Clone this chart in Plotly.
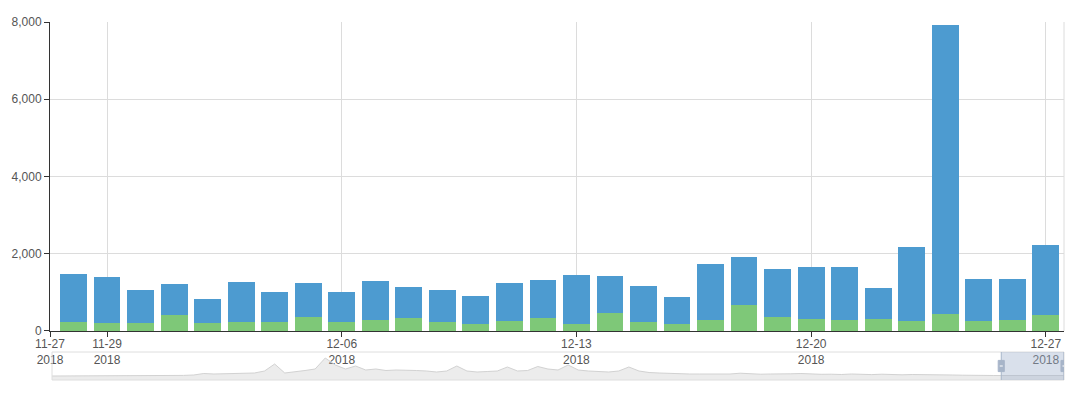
import plotly.graph_objects as go

dates = ["2018-11-28", "2018-11-29", "2018-11-30", "2018-12-01", "2018-12-02", "2018-12-03",
         "2018-12-04", "2018-12-05", "2018-12-06", "2018-12-07", "2018-12-08", "2018-12-09",
         "2018-12-10", "2018-12-11", "2018-12-12", "2018-12-13", "2018-12-14", "2018-12-15",
         "2018-12-16", "2018-12-17", "2018-12-18", "2018-12-19", "2018-12-20", "2018-12-21",
         "2018-12-22", "2018-12-23", "2018-12-24", "2018-12-25", "2018-12-26", "2018-12-27"]

green_values = [225, 210, 210, 419, 210, 225, 244, 375, 236, 296, 330, 244, 173, 262, 330,
                191, 461, 236, 183, 296, 663, 356, 300, 278, 304, 260, 434, 252, 296, 426]
blue_values = [1258, 1187, 854, 802, 628, 1040, 759, 856, 767, 1004, 812, 830, 734, 969, 988,
               1258, 954, 933, 697, 1449, 1257, 1258, 1352, 1368, 797, 1906, 7479, 1098, 1054, 1807]

tick_vals = ["2018-11-27 07:10", "2018-11-29", "2018-12-06", "2018-12-13", "2018-12-20", "2018-12-27"]
tick_text = ["11-27<br>2018", "11-29<br>2018", "12-06<br>2018", "12-13<br>2018", "12-20<br>2018", "12-27<br>2018"]
x_range = ["2018-11-27 07:10", "2018-12-27 13:00"]

# overview (data-zoom) series, full history
preview_values = [4, 4, 4, 4, 4, 4, 4, 4, 4, 4, 4.2, 4.3, 4.5, 4.6, 5, 6.5, 6, 6.2, 7, 6.5,
                  7, 9, 16, 7, 8, 9.5, 11, 22, 15, 11, 14, 10, 11, 9.5, 10, 10, 9.5, 9, 8, 9,
                  14, 9, 8, 8.5, 9, 13, 9, 9.5, 13.5, 11, 10, 15, 10, 9, 8.5, 8, 9, 13, 9, 7.5,
                  7, 6.5, 6.5, 6, 6, 6, 6.2, 6, 6.8, 6, 5.8, 6, 5.8, 6.2, 6.5, 6, 5.7, 5.8, 5.5, 6,
                  5.5, 5.4, 5.8, 5.3, 5.2, 5.5, 5.2, 5, 5.3, 5, 4.8, 5, 4.6, 4.5, 4.5, 4.4, 4.5, 4.4, 4.5, 4.4, 4.5]
window_start = 93.8  # percent of overview shown in main chart

BLUE = "#4D9BD0"
GREEN = "#7EC878"
FONT = "Liberation Sans"
DAY_MS = 86400000

fig = go.Figure()
fig.add_trace(go.Bar(x=dates, y=green_values, name="green", marker_color=GREEN,
                     marker_line_width=0, width=0.8 * DAY_MS, xaxis="x", yaxis="y"))
fig.add_trace(go.Bar(x=dates, y=blue_values, name="blue", marker_color=BLUE,
                     marker_line_width=0, width=0.8 * DAY_MS, xaxis="x", yaxis="y"))

preview_x = list(range(len(preview_values)))
fig.add_trace(go.Scatter(x=preview_x, y=preview_values, mode="lines", fill="tozeroy",
                         line=dict(color="#d2d2d2", width=1), fillcolor="rgba(200,200,200,0.35)",
                         xaxis="x2", yaxis="y2", hoverinfo="skip"))

n_prev = len(preview_values) - 1
shapes = [
    dict(type="line", xref="paper", yref="y domain", x0=1, x1=1, y0=0, y1=1,
         line=dict(color="#dcdcdc", width=1)),
    dict(type="rect", xref="x2 domain", yref="y2 domain", x0=0, x1=1, y0=0, y1=1,
         line=dict(color="#dedede", width=1), fillcolor="rgba(0,0,0,0)"),
    dict(type="rect", xref="x2", yref="y2 domain", x0=window_start * n_prev / 100, x1=n_prev,
         y0=0, y1=1, line=dict(width=0), fillcolor="rgba(160,178,205,0.4)"),
]
for hx in [window_start * n_prev / 100, n_prev]:
    shapes.append(dict(type="line", xref="x2", yref="y2 domain", x0=hx, x1=hx,
                       y0=0, y1=1, line=dict(color="#a7b5c9", width=1)))
    shapes.append(dict(type="rect", xref="x2", yref="y2 domain", x0=hx - 0.3, x1=hx + 0.3,
                       y0=0.3, y1=0.7, line=dict(color="#a7b5c9", width=1), fillcolor="#a7b5c9"))
    shapes.append(dict(type="line", xref="x2", yref="y2 domain", x0=hx - 0.15, x1=hx + 0.15,
                       y0=0.5, y1=0.5, line=dict(color="#ffffff", width=1)))

# page body has an 8px margin, so the figure is sized to fill the rest of the window
fig.update_layout(
    width=1072, height=385,
    margin=dict(l=42, r=16, t=14, b=13),
    paper_bgcolor="white", plot_bgcolor="white",
    barmode="stack", bargap=0.2, showlegend=False,
    font=dict(family=FONT, size=12, color="#555"),
    xaxis=dict(type="date", range=x_range, domain=[0, 1], anchor="y", automargin=False,
               tickvals=tick_vals, ticktext=tick_text, tickfont=dict(size=12, color="#555"),
               ticklabelstandoff=-3,
               showgrid=True, gridcolor="#dcdcdc", gridwidth=1,
               showline=True, linecolor="#333", linewidth=1,
               ticks="outside", ticklen=5, tickcolor="#333", zeroline=False),
    yaxis=dict(range=[0, 8000], domain=[0.1369, 1], anchor="x", automargin=False,
               tickvals=[0, 2000, 4000, 6000, 8000], tickformat=",",
               tickfont=dict(size=12, color="#555"),
               showgrid=True, gridcolor="#dcdcdc", gridwidth=1,
               showline=True, linecolor="#333", linewidth=1,
               ticks="outside", ticklen=5, tickcolor="#333", zeroline=False),
    xaxis2=dict(domain=[0.002, 1], anchor="y2", range=[0, n_prev], visible=False,
                fixedrange=True, automargin=False),
    yaxis2=dict(domain=[0, 0.0782], anchor="x2", range=[0, 28], visible=False,
                fixedrange=True, automargin=False),
    shapes=shapes,
)

fig.write_html("out.html")
